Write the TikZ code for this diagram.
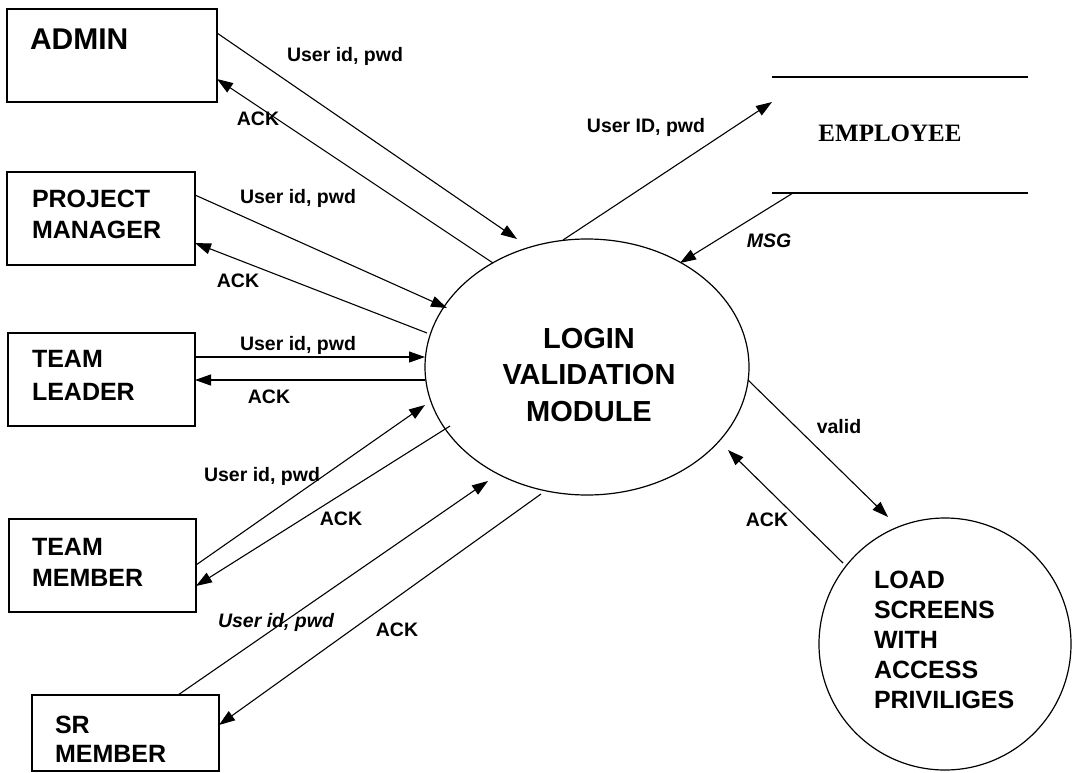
\documentclass[tikz,border=0pt]{standalone}
\usepackage{fontspec}
\setmainfont{Liberation Sans}
\newfontfamily\storefont{Liberation Serif}
\usetikzlibrary{arrows.meta,shapes.geometric}
\begin{document}
\begin{tikzpicture}[x=1pt,y=-1pt,
  every node/.style={inner sep=0pt, outer sep=0pt},
  entity/.style={draw, line width=1.3pt, rectangle, anchor=north west},
  boxtext/.style={anchor=north west, align=left, font=\fontsize{25}{31}\selectfont\bfseries},
  process/.style={draw, line width=1.2pt, ellipse},
  flow/.style={line width=1.1pt, -{Triangle[length=16pt,width=11pt]}},
  flowlabel/.style={anchor=base, font=\fontsize{19.5}{22}\selectfont\bfseries},
]
\useasboundingbox (0,0) rectangle (1073,773);

% external entities
\node (admin) [entity, minimum width=210pt, minimum height=93pt] at (7,9) {};
\node (pm)    [entity, minimum width=188pt, minimum height=93pt] at (7,172) {};
\node (tl)    [entity, minimum width=187pt, minimum height=93pt] at (8,333) {};
\node (tm)    [entity, minimum width=187pt, minimum height=93pt] at (9,519) {};
\node (sr)    [entity, minimum width=187pt, minimum height=76pt] at (32,695) {};

\node (admintext) [boxtext, font=\fontsize{30}{36}\selectfont\bfseries] at (30,29) {ADMIN};
\node (pmtext) [boxtext] at (32,190) {PROJECT\\MANAGER};
\node (tltext) [boxtext, font=\fontsize{25}{33}\selectfont\bfseries] at (32,350) {TEAM\\LEADER};
\node (tmtext) [boxtext] at (32,538) {TEAM\\MEMBER};
\node (srtext) [boxtext, font=\fontsize{25}{29}\selectfont\bfseries] at (55,716) {SR\\MEMBER};

% processes
\node (login) [process, minimum width=324pt, minimum height=256pt] at (587,367) {};
\node (logintext) [anchor=north, align=center, font=\fontsize{29}{36.5}\selectfont\bfseries] at (589,328) {LOGIN\\VALIDATION\\MODULE};

\node (load) [draw, circle, line width=1.2pt, minimum size=252pt] at (945,644) {};
\node (loadtext) [anchor=north west, align=left, font=\fontsize{25}{30}\selectfont\bfseries] at (874,571) {LOAD\\SCREENS\\WITH\\ACCESS\\PRIVILIGES};

% data store
\node (store) [minimum width=256pt, minimum height=116pt, anchor=north west] at (772,77) {};
\draw[line width=1.2pt] (store.north west) -- (store.north east);
\draw[line width=1.2pt] (store.south west) -- (store.south east);
\node (storetext) [anchor=base, font=\fontsize{25}{30}\storefont\bfseries] at (890,142) {EMPLOYEE};

% data flows
\draw[flow] ([shift={(0,24)}]admin.north east) -- ([shift={(-70,-128)}]login.center);
\draw[flow] ([shift={(-94,-104)}]login.center) -- ([shift={(0,70)}]admin.north east);
\draw[flow] ([shift={(0,23)}]pm.north east) -- ([shift={(-140,-59)}]login.center);
\draw[flow] ([shift={(-160,-34)}]login.center) -- ([shift={(0,71)}]pm.north east);
\draw[flow] ([shift={(0,24)}]tl.north east) -- ([shift={(-162,-10)}]login.center);
\draw[flow] ([shift={(-162,13)}]login.center) -- ([shift={(0,47)}]tl.north east);
\draw[flow] ([shift={(0,46)}]tm.north east) -- ([shift={(-162,38)}]login.center);
\draw[flow] ([shift={(-137,59)}]login.center) -- ([shift={(0,67)}]tm.north east);
\draw[flow] ([shift={(146,0)}]sr.north west) -- ([shift={(-99,114)}]login.center);
\draw[flow] ([shift={(-46,127)}]login.center) -- ([shift={(0,30)}]sr.north east);
\draw[flow] ([shift={(-24,-127)}]login.center) -- ([shift={(0,25)}]store.north west);
\draw[flow] ([shift={(21,0)}]store.south west) -- ([shift={(93,-104)}]login.center);
\draw[flow] ([shift={(161,13)}]login.center) -- ([shift={(-57,-127)}]load.center);
\draw[flow] ([shift={(-102,-81)}]load.center) -- ([shift={(141,83)}]login.center);

% flow labels
\node (l1)  [flowlabel] at (345,62)  {User id, pwd};
\node (l2)  [flowlabel] at (258,125) {ACK};
\node (l3)  [flowlabel] at (298,203) {User id, pwd};
\node (l4)  [flowlabel] at (238,287) {ACK};
\node (l5)  [flowlabel] at (298,350) {User id, pwd};
\node (l6)  [flowlabel] at (269,403) {ACK};
\node (l7)  [flowlabel] at (262,481) {User id, pwd};
\node (l8)  [flowlabel] at (341,525) {ACK};
\node (l9)  [flowlabel, font=\fontsize{19.5}{22}\selectfont\bfseries\itshape] at (276,627) {User id, pwd};
\node (l10) [flowlabel] at (397,636) {ACK};
\node (l11) [flowlabel] at (646,132) {User ID, pwd};
\node (l12) [flowlabel, font=\fontsize{19.5}{22}\selectfont\bfseries\itshape] at (769,247) {MSG};
\node (l13) [flowlabel] at (839,433) {valid};
\node (l14) [flowlabel] at (767,526) {ACK};
\end{tikzpicture}
\end{document}
